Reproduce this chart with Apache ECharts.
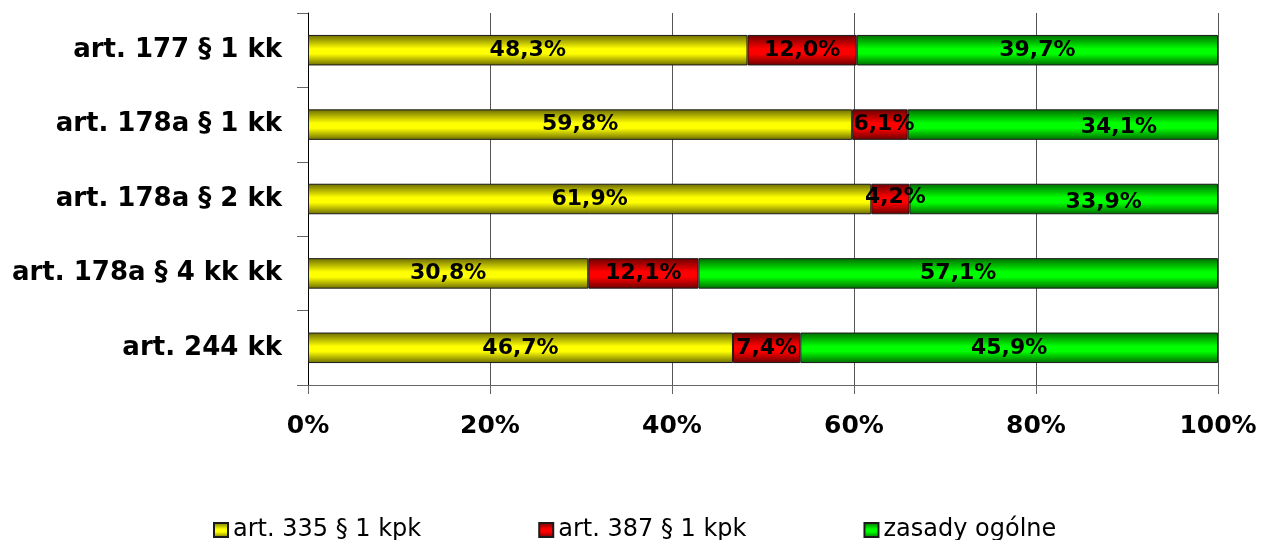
<!DOCTYPE html>
<html>
<head>
<meta charset="utf-8">
<script src="https://cdn.jsdelivr.net/npm/echarts@6/dist/echarts.min.js"></script>
<style>
  html, body { margin: 0; padding: 0; background: #fff; }
  #chart { width: 1264px; height: 540px; }
</style>
</head>
<body>
<div id="chart"></div>
<script>
// Categories (top to bottom) and the share of each procedure basis, in percent
const categories = ['art. 177 § 1 kk', 'art. 178a § 1 kk', 'art. 178a § 2 kk', 'art. 178a § 4 kk kk', 'art. 244 kk'];
const seriesNames = ['art. 335 § 1 kpk', 'art. 387 § 1 kpk', 'zasady ogólne'];
const art335 = [48.3, 59.8, 61.9, 30.8, 46.7];
const art387 = [12.0, 6.1, 4.2, 12.1, 7.4];
const general = [39.7, 34.1, 33.9, 57.1, 45.9];
const xTicks = [0, 20, 40, 60, 80, 100];

const FONT = 'DejaVu Sans';

// Bar fill: dark edges, bright centre
function shade(dark, bright) {
  return new echarts.graphic.LinearGradient(0, 0, 0, 1, [
    { offset: 0, color: dark },
    { offset: 0.45, color: bright },
    { offset: 0.62, color: bright },
    { offset: 1, color: dark }
  ]);
}
const fills = [
  shade('#6b6b00', '#ffff00'),
  shade('#6b0000', '#ff0000'),
  shade('#006b00', '#00ff00')
];

// A few labels sit slightly off-centre in their segments
const labelShift = {
  '1-1': [4, 0], '2-1': [56, 3],
  '1-2': [5, -2], '2-2': [40, 3]
};

const fmt = v => v.toFixed(1).replace('.', ',') + '%';

function buildSeries(idx, values) {
  return {
    name: seriesNames[idx],
    type: 'bar',
    stack: 'total',
    barWidth: '41%',
    itemStyle: { color: fills[idx], borderColor: '#1a1a1a', borderWidth: 1 },
    label: {
      show: true,
      position: 'inside',
      color: '#000',
      fontFamily: FONT,
      fontWeight: 'bold',
      fontSize: 22,
      formatter: p => fmt(p.value)
    },
    data: values.map((v, row) => {
      const off = labelShift[idx + '-' + row];
      return off ? { value: v, label: { offset: off } } : v;
    })
  };
}

const chart = echarts.init(document.getElementById('chart'), null, { renderer: 'canvas' });
chart.setOption({
  animation: false,
  backgroundColor: '#fff',
  grid: { left: 308, right: 46, top: 13, bottom: 155, containLabel: false },
  legend: {
    data: seriesNames,
    left: 208,
    top: 513,
    icon: 'rect',
    itemWidth: 14,
    itemHeight: 14,
    itemGap: 117,
    textStyle: { fontFamily: FONT, fontSize: 24, color: '#000' }
  },
  xAxis: {
    type: 'value',
    min: xTicks[0],
    max: xTicks[xTicks.length - 1],
    interval: xTicks[1] - xTicks[0],
    axisLine: { show: true, lineStyle: { color: '#666', width: 1 } },
    axisTick: { show: true, length: 9, lineStyle: { color: '#666' } },
    splitLine: { show: true, lineStyle: { color: '#555', width: 1 } },
    axisLabel: {
      margin: 29,
      color: '#000',
      fontFamily: FONT,
      fontWeight: 'bold',
      fontSize: 25,
      formatter: '{value}%'
    }
  },
  yAxis: {
    type: 'category',
    inverse: true,
    data: categories,
    axisLine: { show: true, lineStyle: { color: '#000', width: 1 } },
    axisTick: { show: true, length: 11, lineStyle: { color: '#666' } },
    axisLabel: {
      margin: 26,
      color: '#000',
      fontFamily: FONT,
      fontWeight: 'bold',
      fontSize: 26
    }
  },
  series: [
    buildSeries(0, art335),
    buildSeries(1, art387),
    buildSeries(2, general)
  ]
});
</script>
</body>
</html>
